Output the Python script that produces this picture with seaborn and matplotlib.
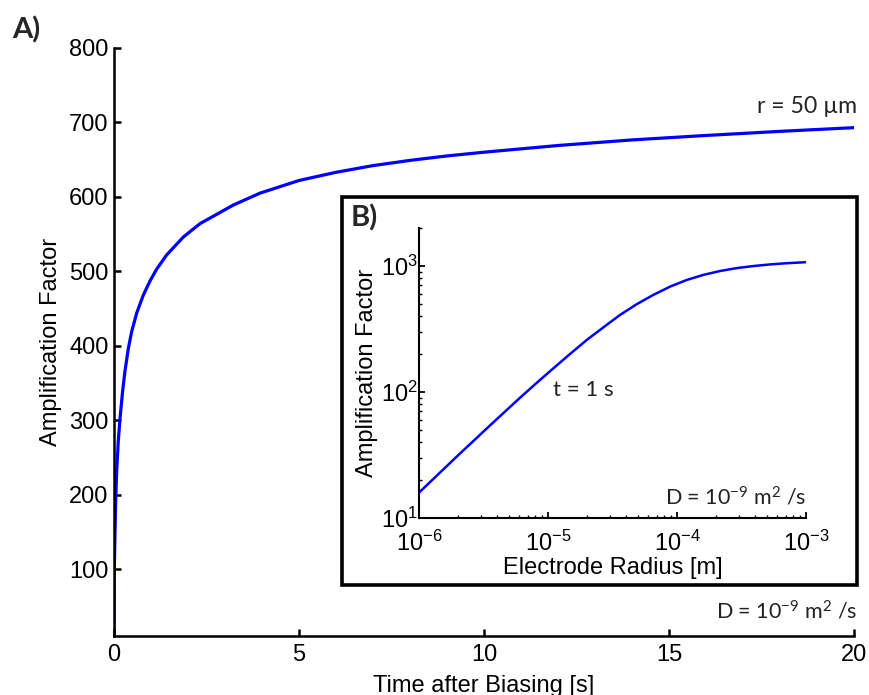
import matplotlib
matplotlib.use("Agg")
import matplotlib.pyplot as plt
import seaborn as sns
from matplotlib.patches import Rectangle
from matplotlib.ticker import LogLocator, NullFormatter, LogFormatterSciNotation

# ---- data ----
time_s = [0, 0.003, 0.008, 0.027, 0.046, 0.073, 0.116, 0.162, 0.235, 0.297, 0.386, 0.478,
          0.614, 0.792, 0.973, 1.154, 1.424, 1.873, 2.324, 3.224, 3.946,
          5, 6, 7, 8, 9, 10, 12, 14, 16, 18, 20]
amp_time = [10, 70, 100, 150, 192, 232, 272, 302, 340, 366, 396, 419,
            444, 468, 487, 503, 522, 546, 564, 589, 605,
            622, 633, 642, 649, 655, 660, 669, 676.5, 682.5, 688, 693]

radius_m = [1e-6, 2e-6, 3.5e-6, 6.07e-6, 8.2e-6, 1.1e-5, 1.48e-5, 2.0e-5, 2.69e-5,
            3.61e-5, 4.87e-5, 6.55e-5, 8.83e-5, 1.19e-4, 1.6e-4, 2.15e-4, 2.9e-4,
            3.91e-4, 5.26e-4, 7.08e-4, 1e-3]
amp_radius = [15.9, 31.3, 53.5, 90, 118.5, 154, 200, 259, 326,
              408, 497, 589, 685, 774, 849, 911, 961,
              998, 1028, 1051, 1071]

main_xticks = [0, 5, 10, 15, 20]
main_yticks = [100, 200, 300, 400, 500, 600, 700, 800]

BLUE = "#0000ff"
NOTE = ["Lato", "DejaVu Sans"]

sns.set_theme(style="ticks")
plt.rcParams["font.family"] = ["Liberation Sans", "DejaVu Sans"]
plt.rcParams["mathtext.fontset"] = "custom"
plt.rcParams["mathtext.rm"] = "Liberation Sans"
plt.rcParams["mathtext.it"] = "Liberation Sans"

W, H = 870, 695
fig = plt.figure(figsize=(W / 100, H / 100), dpi=100)
fig.patch.set_facecolor("white")

def fax(x0, y0, x1, y1):
    return [x0 / W, 1 - y1 / H, (x1 - x0) / W, (y1 - y0) / H]

# ---- main axes ----
ax = fig.add_axes(fax(114, 48, 854, 636))
ax.set_facecolor("white")
sns.lineplot(x=time_s, y=amp_time, ax=ax, color=BLUE, linewidth=2.3)
ax.set_xlim(0, 20)
ax.set_ylim(10, 800)
ax.set_xticks(main_xticks)
ax.set_yticks(main_yticks)
for s in ["top", "right"]:
    ax.spines[s].set_visible(False)
for s in ["left", "bottom"]:
    ax.spines[s].set_linewidth(1.8)
    ax.spines[s].set_color("black")
ax.tick_params(direction="in", length=5, width=1.8, labelsize=17, colors="black")
ax.tick_params(axis="x", pad=6)
ax.tick_params(axis="y", pad=4)
ax.set_xlabel("Time after Biasing [s]", fontsize=17, labelpad=6, color="black")
ax.set_ylabel("Amplification Factor", fontsize=17, labelpad=5, color="black")
ax.grid(False)

ax.text(1.004, 0.8997, "r = 50 \u00b5m", transform=ax.transAxes, ha="right", va="center",
        fontsize=16.6, family=NOTE, color="#222222")
ax.text(1.004, 0.0425, r"D = $\mathdefault{10^{-9}}$ m$\mathdefault{^{2}}$ /s",
        transform=ax.transAxes, ha="right", va="center",
        fontsize=15.5, family=NOTE, color="#222222")

fig.text(12 / W, 1 - 30 / H, "A)", ha="left", va="center", fontsize=21,
         fontweight="bold", family=NOTE)

# ---- inset frame ----
frame = Rectangle((342 / W, 1 - 585 / H), (857 - 342) / W, (585 - 197) / H,
                  transform=fig.transFigure, facecolor="white", edgecolor="black",
                  linewidth=2.6, zorder=5)
fig.patches.append(frame)

# ---- inset axes ----
ax2 = fig.add_axes(fax(419, 228, 806, 518))
ax2.set_zorder(10)
ax2.set_facecolor("white")
sns.lineplot(x=radius_m, y=amp_radius, ax=ax2, color=BLUE, linewidth=1.8)
ax2.set_xscale("log")
ax2.set_yscale("log")
ax2.set_xlim(1e-6, 1e-3)
ax2.set_ylim(10, 2000)
ax2.xaxis.set_major_locator(LogLocator(base=10, numticks=10))
ax2.yaxis.set_major_locator(LogLocator(base=10, numticks=10))
ax2.xaxis.set_minor_locator(LogLocator(base=10, subs=range(2, 10), numticks=20))
ax2.yaxis.set_minor_locator(LogLocator(base=10, subs=range(2, 10), numticks=20))
ax2.xaxis.set_minor_formatter(NullFormatter())
ax2.yaxis.set_minor_formatter(NullFormatter())
ax2.xaxis.set_major_formatter(LogFormatterSciNotation())
ax2.yaxis.set_major_formatter(LogFormatterSciNotation())
for s in ["top", "right"]:
    ax2.spines[s].set_visible(False)
for s in ["left", "bottom"]:
    ax2.spines[s].set_linewidth(1.5)
    ax2.spines[s].set_color("black")
ax2.tick_params(which="major", direction="in", length=4, width=1.3, labelsize=17, colors="black")
ax2.tick_params(which="minor", direction="in", length=2.5, width=1.0, colors="black")
ax2.tick_params(axis="x", which="major", pad=9)
ax2.tick_params(axis="y", which="major", pad=1)
ax2.set_xlabel("Electrode Radius [m]", fontsize=17, labelpad=1, color="black")
ax2.set_ylabel("Amplification Factor", fontsize=17, labelpad=2, color="black")
ax2.grid(False)

ax2.text(0.346, 0.441, "t = 1 s", transform=ax2.transAxes, ha="left", va="center",
         fontsize=16, family=NOTE, color="#222222")
ax2.text(1.0, 0.072, r"D = $\mathdefault{10^{-9}}$ m$\mathdefault{^{2}}$ /s",
         transform=ax2.transAxes, ha="right", va="center",
         fontsize=15.5, family=NOTE, color="#222222")

fig.text(351 / W, 1 - 218 / H, "B)", ha="left", va="center", fontsize=21,
         fontweight="bold", family=NOTE, zorder=20)

fig.savefig("out.png", dpi=100, facecolor="white")
